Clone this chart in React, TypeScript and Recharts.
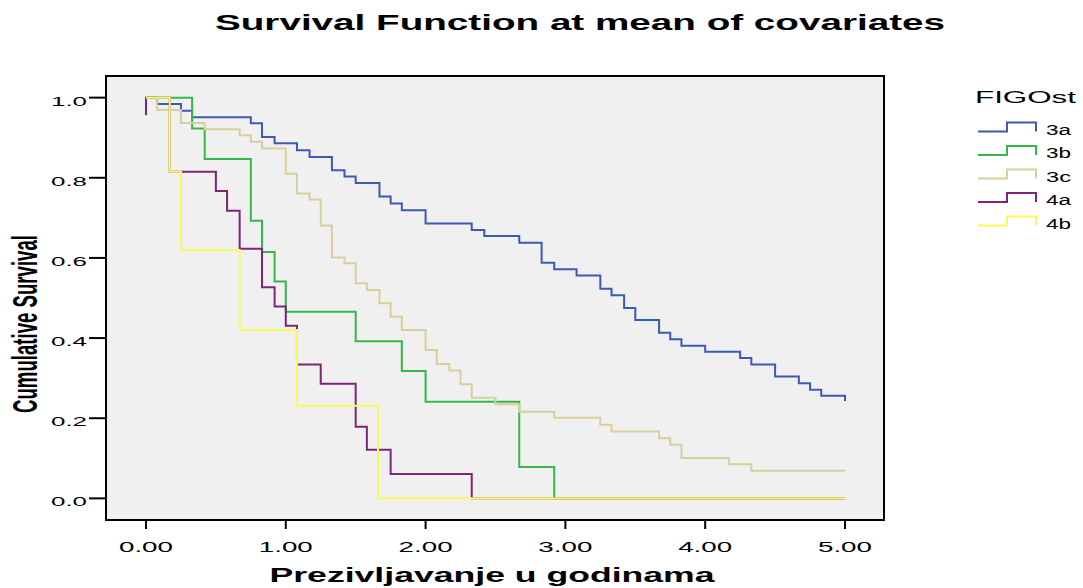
import { LineChart, Line, XAxis, YAxis, CartesianGrid, ReferenceArea } from "recharts";

const FONT = '"Liberation Sans", Arial, sans-serif';

const X_TICKS = [0, 1, 2, 3, 4, 5];
const Y_TICKS = [0, 0.2, 0.4, 0.6, 0.8, 1.0];

// the frame sits a bit outside 0..5 and 0..1, like the SPSS plot
const X_DOMAIN = [-0.286, 5.279];
const Y_DOMAIN = [-0.054, 1.054];

// FIGOst 3a
const TIME_3A = [0, 0.08, 0.25, 0.33, 0.75, 0.83, 0.92, 1.08, 1.17, 1.33, 1.42, 1.5, 1.67, 1.75, 1.83, 2.0, 2.33, 2.42, 2.67, 2.83, 2.92, 3.08, 3.25, 3.33, 3.42, 3.5, 3.67, 3.75, 3.83, 4.0, 4.25, 4.33, 4.5, 4.67, 4.75, 4.83, 5.0];
const SURV_3A = [1.0, 0.984, 0.967, 0.951, 0.936, 0.902, 0.886, 0.869, 0.852, 0.819, 0.803, 0.787, 0.753, 0.736, 0.719, 0.686, 0.67, 0.655, 0.638, 0.588, 0.572, 0.556, 0.523, 0.507, 0.475, 0.445, 0.413, 0.397, 0.381, 0.366, 0.35, 0.334, 0.304, 0.287, 0.271, 0.256, 0.243];

// FIGOst 3b
const TIME_3B = [0, 0.33, 0.42, 0.75, 0.83, 0.92, 1.0, 1.5, 1.83, 2.0, 2.67, 2.92, 5.0];
const SURV_3B = [1.0, 0.923, 0.847, 0.693, 0.615, 0.541, 0.466, 0.392, 0.318, 0.241, 0.078, 0, 0];

// FIGOst 3c
const TIME_3C = [0, 0.08, 0.25, 0.42, 0.67, 0.75, 0.83, 1.0, 1.08, 1.17, 1.25, 1.33, 1.42, 1.5, 1.58, 1.67, 1.75, 1.83, 2.0, 2.08, 2.17, 2.25, 2.33, 2.5, 2.67, 2.92, 3.25, 3.33, 3.67, 3.75, 3.83, 4.17, 4.33, 5.0];
const SURV_3C = [1.0, 0.969, 0.937, 0.921, 0.906, 0.89, 0.873, 0.81, 0.761, 0.746, 0.681, 0.601, 0.587, 0.537, 0.52, 0.487, 0.453, 0.42, 0.37, 0.335, 0.319, 0.285, 0.251, 0.235, 0.216, 0.201, 0.184, 0.167, 0.15, 0.134, 0.101, 0.085, 0.069, 0.069];

// FIGOst 4a (the first point gives the little tick at t = 0)
const TIME_4A = [0, 0, 0.17, 0.5, 0.58, 0.67, 0.83, 0.92, 1.0, 1.08, 1.25, 1.5, 1.58, 1.75, 2.33, 5.0];
const SURV_4A = [0.956, 1.0, 0.815, 0.767, 0.718, 0.623, 0.527, 0.479, 0.431, 0.334, 0.286, 0.179, 0.121, 0.061, 0, 0];

// FIGOst 4b
const TIME_4B = [0, 0.17, 0.25, 0.67, 1.08, 1.66, 5.0];
const SURV_4B = [1.0, 0.815, 0.62, 0.42, 0.231, 0, 0];

const SERIES = [
  { name: "3a", color: "#3d59b6", time: TIME_3A, surv: SURV_3A },
  { name: "3b", color: "#33b84a", time: TIME_3B, surv: SURV_3B },
  { name: "3c", color: "#d8d09a", time: TIME_3C, surv: SURV_3C },
  { name: "4a", color: "#7e2479", time: TIME_4A, surv: SURV_4A },
  { name: "4b", color: "#fafa5c", time: TIME_4B, surv: SURV_4B },
];

const XTick = ({ x, y, payload }: any) => (
  <text
    x={x}
    y={y}
    dy={23}
    textAnchor="middle"
    fontFamily={FONT}
    fontSize={14}
    fill="#000"
    textLength={54}
    lengthAdjust="spacingAndGlyphs"
  >
    {Number(payload.value).toFixed(2)}
  </text>
);

const YTick = ({ x, y, payload }: any) => (
  <text
    x={x}
    y={y}
    dy={8}
    textAnchor="end"
    fontFamily={FONT}
    fontSize={13}
    fill="#000"
    textLength={36}
    lengthAdjust="spacingAndGlyphs"
  >
    {Number(payload.value).toFixed(1)}
  </text>
);

export default function App() {
  return (
    <div
      style={{
        position: "absolute",
        left: 0,
        top: 0,
        width: 1083,
        height: 588,
        background: "#fff",
        fontFamily: FONT,
      }}
    >
      <LineChart
        width={1083}
        height={588}
        margin={{ top: 76, right: 199, bottom: 0, left: 0 }}
      >
        <CartesianGrid fill="#f0f0f0" horizontal={false} vertical={false} />
        <XAxis
          type="number"
          dataKey="t"
          domain={X_DOMAIN}
          ticks={X_TICKS}
          allowDataOverflow
          height={68}
          axisLine={false}
          tickSize={9}
          tickMargin={0}
          tickLine={{ stroke: "#000", strokeWidth: 2 }}
          tick={<XTick />}
        />
        <YAxis
          type="number"
          domain={Y_DOMAIN}
          ticks={Y_TICKS}
          allowDataOverflow
          width={106}
          axisLine={false}
          tickSize={17}
          tickMargin={2}
          tickLine={{ stroke: "#000", strokeWidth: 2 }}
          tick={<YTick />}
        />
        {SERIES.map((s) => (
          <Line
            key={s.name}
            name={s.name}
            data={s.time.map((t, i) => ({ t, s: s.surv[i] }))}
            dataKey="s"
            type="stepAfter"
            stroke={s.color}
            strokeWidth={2}
            dot={false}
            activeDot={false}
            isAnimationActive={false}
          />
        ))}
        <ReferenceArea
          x1={X_DOMAIN[0]}
          x2={X_DOMAIN[1]}
          y1={Y_DOMAIN[0]}
          y2={Y_DOMAIN[1]}
          fill="none"
          stroke="#000"
          strokeWidth={2}
        />
      </LineChart>

      <svg
        width={1083}
        height={588}
        style={{ position: "absolute", left: 0, top: 0, pointerEvents: "none" }}
      >
        <text
          x={580}
          y={30}
          textAnchor="middle"
          fontFamily={FONT}
          fontSize={22}
          fontWeight="bold"
          textLength={730}
          lengthAdjust="spacingAndGlyphs"
        >
          Survival Function at mean of covariates
        </text>
        <text
          x={492}
          y={582}
          textAnchor="middle"
          fontFamily={FONT}
          fontSize={21}
          fontWeight="bold"
          textLength={445}
          lengthAdjust="spacingAndGlyphs"
        >
          Prezivljavanje u godinama
        </text>
        <text
          transform="translate(37, 324) rotate(-90) scale(1, 2.3)"
          textAnchor="middle"
          fontFamily={FONT}
          fontSize={15}
          fontWeight="bold"
          textLength={178}
          lengthAdjust="spacingAndGlyphs"
        >
          Cumulative Survival
        </text>

        {/* legend */}
        <text
          x={975}
          y={103}
          fontFamily={FONT}
          fontSize={16}
          textLength={101}
          lengthAdjust="spacingAndGlyphs"
        >
          FIGOst
        </text>
        {SERIES.map((s, i) => {
          const y = 131.5 + i * 23.5;
          return (
            <g key={s.name}>
              <path
                d={`M978 ${y} H1007 V${y - 9} H1036 V${y}`}
                fill="none"
                stroke={s.color}
                strokeWidth={2}
              />
              <text
                x={1046}
                y={y + 3}
                fontFamily={FONT}
                fontSize={14}
                textLength={25}
                lengthAdjust="spacingAndGlyphs"
              >
                {s.name}
              </text>
            </g>
          );
        })}
      </svg>
    </div>
  );
}
